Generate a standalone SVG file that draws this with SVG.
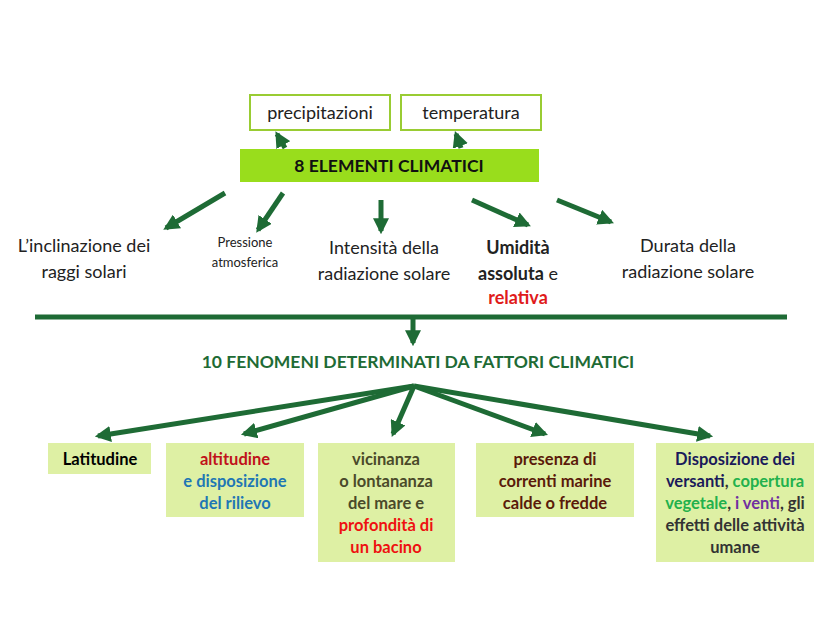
<svg xmlns="http://www.w3.org/2000/svg" width="828" height="621" viewBox="0 0 828 621">
<defs>
<marker id="ah" viewBox="0 0 10 10" refX="8" refY="5" markerWidth="3.2" markerHeight="3.2" orient="auto" markerUnits="strokeWidth"><path d="M0,0 L10,5 L0,10 z" fill="#1e6b35"/></marker>
<style>
text{font-family:Lato,"Open Sans","Liberation Sans",sans-serif;text-anchor:middle}
.c{stroke:#1e6b35;stroke-width:5;fill:none;marker-end:url(#ah)}
.t{font-size:18px;fill:#222}
.b{font-size:16.5px;font-weight:bold}
.bx{fill:#def0a4}
</style>
</defs>
<rect width="828" height="621" fill="#fff"/>
<g id="precipitazioni"><rect x="250" y="95" width="140" height="35" fill="#fff" stroke="#99cc33" stroke-width="2"/><text x="320" y="119" class="t">precipitazioni</text></g>
<g id="temperatura"><rect x="401" y="95" width="140" height="35" fill="#fff" stroke="#99cc33" stroke-width="2"/><text x="471" y="119" class="t">temperatura</text></g>
<g id="elementi"><rect x="240" y="149" width="299" height="33" fill="#99dd1c"/><text x="389" y="172" style="font-size:17.5px;font-weight:bold;fill:#111">8 ELEMENTI CLIMATICI</text></g>
<g id="inclinazione"><text x="84" y="252" class="t">L’inclinazione dei</text><text x="84" y="278" class="t">raggi solari</text></g>
<g id="pressione"><text x="245" y="247" style="font-size:13px;fill:#222">Pressione</text><text x="245" y="267" style="font-size:13px;fill:#222">atmosferica</text></g>
<g id="intensita"><text x="384" y="254" class="t">Intensità della</text><text x="384" y="280" class="t">radiazione solare</text></g>
<g id="umidita"><text x="518" y="254" class="t" style="font-weight:bold">Umidità</text><text x="518" y="280" class="t"><tspan font-weight="bold">assoluta</tspan> e</text><text x="518" y="304" class="t" style="font-weight:bold;fill:#e01b1b">relativa</text></g>
<g id="durata"><text x="688" y="252" class="t">Durata della</text><text x="688" y="278" class="t">radiazione solare</text></g>
<g id="fenomeni"><text x="418" y="368" style="font-size:17.5px;font-weight:bold;fill:#1e6b35">10 FENOMENI DETERMINATI DA FATTORI CLIMATICI</text></g>
<g id="latitudine"><rect class="bx" x="48" y="443" width="103" height="31"/><text x="100" y="465" class="b">Latitudine</text></g>
<g id="altitudine"><rect class="bx" x="166" y="443" width="138" height="74"/><text x="235" y="465" class="b" fill="#c0121b">altitudine</text><text x="235" y="487" class="b" fill="#1f77b4">e disposizione</text><text x="235" y="509" class="b" fill="#1f77b4">del rilievo</text></g>
<g id="vicinanza"><rect class="bx" x="318" y="443" width="137" height="119"/><text x="386" y="465" class="b" fill="#4a4a2a">vicinanza</text><text x="386" y="487" class="b" fill="#4a4a2a">o lontananza</text><text x="386" y="509" class="b" fill="#4a4a2a">del mare e</text><text x="386" y="531" class="b" fill="#ee1111">profondità di</text><text x="386" y="553" class="b" fill="#ee1111">un bacino</text></g>
<g id="presenza"><rect class="bx" x="476" y="443" width="158" height="74"/><text x="555" y="465" class="b" fill="#5a1a0a">presenza di</text><text x="555" y="487" class="b" fill="#5a1a0a">correnti marine</text><text x="555" y="509" class="b" fill="#5a1a0a">calde o fredde</text></g>
<g id="disposizione"><rect class="bx" x="656" y="443" width="158" height="119"/><text x="735" y="465" class="b" fill="#1a1a5a">Disposizione dei</text><text x="735" y="487" class="b"><tspan fill="#1a1a5a">versanti</tspan><tspan fill="#333">, </tspan><tspan fill="#22b14c">copertura</tspan></text><text x="735" y="509" class="b"><tspan fill="#22b14c">vegetale</tspan><tspan fill="#333">, </tspan><tspan fill="#7030a0">i venti</tspan><tspan fill="#333">, gli</tspan></text><text x="735" y="531" class="b" fill="#333">effetti delle attività</text><text x="735" y="553" class="b" fill="#333">umane</text></g>
<g id="connectors">
<line class="c" x1="285" y1="148" x2="277" y2="134"/>
<line class="c" x1="461" y1="148" x2="456" y2="134"/>
<line class="c" x1="225" y1="193" x2="166" y2="228"/>
<line class="c" x1="283" y1="193" x2="258" y2="230"/>
<line class="c" x1="381" y1="200" x2="381" y2="231"/>
<line class="c" x1="472" y1="200" x2="528" y2="225"/>
<line class="c" x1="557" y1="200" x2="611" y2="222"/>
<line x1="35" y1="317" x2="787" y2="317" stroke="#1e6b35" stroke-width="5"/>
<line class="c" x1="413" y1="318" x2="413" y2="343"/>
<line class="c" x1="414" y1="386" x2="98" y2="436"/>
<line class="c" x1="414" y1="386" x2="244" y2="434"/>
<line class="c" x1="414" y1="386" x2="393" y2="434"/>
<line class="c" x1="414" y1="386" x2="545" y2="434"/>
<line class="c" x1="414" y1="386" x2="710" y2="436"/>
</g>
</svg>
